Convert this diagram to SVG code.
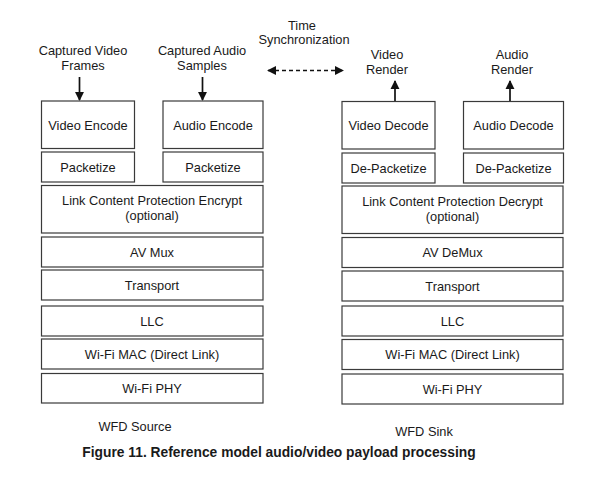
<svg xmlns="http://www.w3.org/2000/svg" width="600" height="482" viewBox="0 0 600 482">
<style>
.b{fill:#fff;stroke:#3a3a3a;stroke-width:1.2}
text{font-family:"Liberation Sans",Arial,sans-serif;font-size:12.8px;fill:#1a1a1a;text-anchor:middle}
.cap{font-weight:bold;font-size:13.8px}
.ln{stroke:#111;stroke-width:1.7;fill:none}
</style>
<defs>
<marker id="ah" viewBox="0 0 10 10" refX="9" refY="5" markerWidth="5.5" markerHeight="5.5" orient="auto-start-reverse"><path d="M0,0L10,5L0,10z" fill="#111"/></marker>
</defs>
<rect width="600" height="482" fill="#fff"/>
<g id="connectors">
<line class="ln" x1="79.5" y1="77" x2="79.5" y2="100" marker-end="url(#ah)"/>
<line class="ln" x1="202.5" y1="77" x2="202.5" y2="100" marker-end="url(#ah)"/>
<line class="ln" x1="395" y1="101" x2="395" y2="81" marker-end="url(#ah)"/>
<line class="ln" x1="510" y1="101" x2="510" y2="81" marker-end="url(#ah)"/>
<line class="ln" x1="268" y1="70.5" x2="343" y2="70.5" stroke-dasharray="4,3" marker-start="url(#ah)" marker-end="url(#ah)"/>
</g>
<g id="labels">
<text x="83" y="54.5">Captured Video</text>
<text x="83" y="69.5">Frames</text>
<text x="202" y="54.5">Captured Audio</text>
<text x="202" y="69.5">Samples</text>
<text x="302" y="29.5">Time</text>
<text x="304" y="44">Synchronization</text>
<text x="387" y="58.5">Video</text>
<text x="387" y="74">Render</text>
<text x="512" y="58.5">Audio</text>
<text x="512" y="74">Render</text>
<text x="135" y="430.5">WFD Source</text>
<text x="424" y="435.5">WFD Sink</text>
<text class="cap" x="279" y="457">Figure 11. Reference model audio/video payload processing</text>
</g>
<g id="source">
<g id="video-encode"><rect class="b" x="41.5" y="101" width="93" height="47.5"/><text x="88" y="129.5">Video Encode</text></g>
<g id="audio-encode"><rect class="b" x="163" y="101" width="100" height="47.5"/><text x="213" y="129.5">Audio Encode</text></g>
<g id="packetize-v"><rect class="b" x="41.5" y="152" width="93" height="30"/><text x="88" y="171.5">Packetize</text></g>
<g id="packetize-a"><rect class="b" x="163" y="152" width="100" height="30"/><text x="213" y="171.5">Packetize</text></g>
<g id="encrypt"><rect class="b" x="41.5" y="185.5" width="221.5" height="47.5"/><text x="152" y="205">Link Content Protection Encrypt</text><text x="152" y="220">(optional)</text></g>
<g id="avmux"><rect class="b" x="41.5" y="237" width="221.5" height="30"/><text x="152" y="256.5">AV Mux</text></g>
<g id="transport-s"><rect class="b" x="41.5" y="270" width="221.5" height="30"/><text x="152" y="289.5">Transport</text></g>
<g id="llc-s"><rect class="b" x="41.5" y="306" width="221.5" height="30"/><text x="152" y="325.5">LLC</text></g>
<g id="mac-s"><rect class="b" x="41.5" y="339" width="221.5" height="30"/><text x="152" y="358.5">Wi-Fi MAC (Direct Link)</text></g>
<g id="phy-s"><rect class="b" x="41.5" y="373.5" width="221.5" height="29.5"/><text x="152" y="392.5">Wi-Fi PHY</text></g>
</g>
<g id="sink">
<g id="video-decode"><rect class="b" x="342" y="101.5" width="93" height="47.5"/><text x="388.5" y="130">Video Decode</text></g>
<g id="audio-decode"><rect class="b" x="463.5" y="101.5" width="100" height="47.5"/><text x="513.5" y="130">Audio Decode</text></g>
<g id="depacketize-v"><rect class="b" x="342" y="153" width="93" height="30"/><text x="388.5" y="172.5">De-Packetize</text></g>
<g id="depacketize-a"><rect class="b" x="463.5" y="153" width="100" height="30"/><text x="513.5" y="172.5">De-Packetize</text></g>
<g id="decrypt"><rect class="b" x="342" y="186" width="221" height="47.5"/><text x="452.5" y="205.5">Link Content Protection Decrypt</text><text x="452.5" y="220.5">(optional)</text></g>
<g id="avdemux"><rect class="b" x="342" y="237.5" width="221" height="30"/><text x="452.5" y="257">AV DeMux</text></g>
<g id="transport-k"><rect class="b" x="342" y="271" width="221" height="30"/><text x="452.5" y="290.5">Transport</text></g>
<g id="llc-k"><rect class="b" x="342" y="306" width="221" height="30"/><text x="452.5" y="325.5">LLC</text></g>
<g id="mac-k"><rect class="b" x="342" y="339.5" width="221" height="30"/><text x="452.5" y="359">Wi-Fi MAC (Direct Link)</text></g>
<g id="phy-k"><rect class="b" x="342" y="374" width="221" height="30"/><text x="452.5" y="393.5">Wi-Fi PHY</text></g>
</g>
</svg>
